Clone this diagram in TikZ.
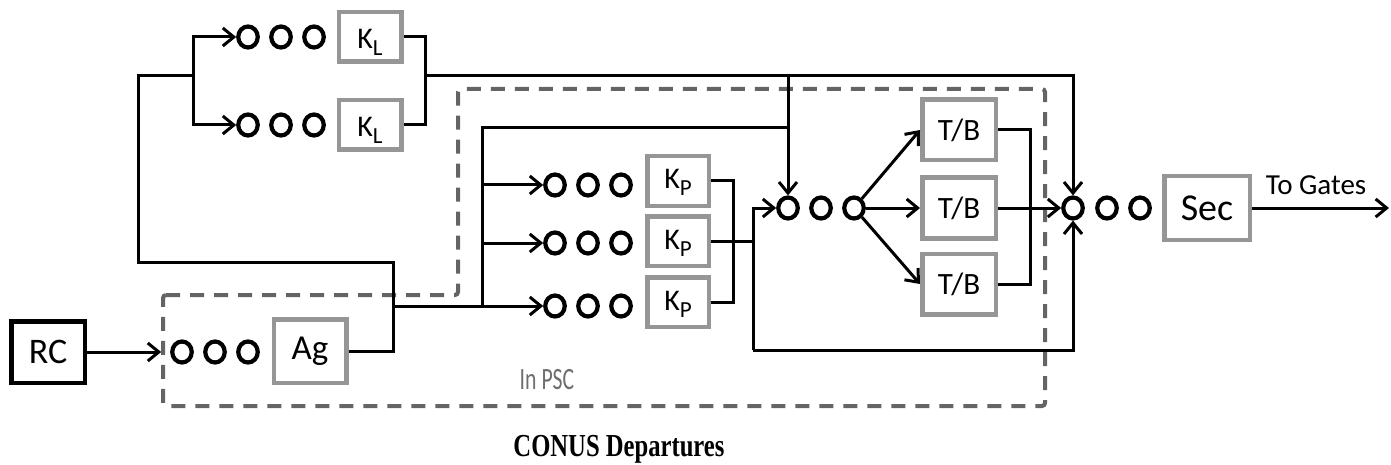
\documentclass[tikz,border=0pt]{standalone}
\usepackage{fontspec}
\setmainfont{Carlito}
\newfontfamily\capfont{Liberation Serif}
\usetikzlibrary{arrows.meta,shapes.geometric}
\definecolor{boxgray}{RGB}{150,150,150}
\definecolor{dashgray}{RGB}{100,100,100}
\definecolor{txtgray}{RGB}{110,110,110}
\newcommand{\lsub}[1]{\raisebox{-7pt}{\fontsize{23}{25}\selectfont #1}}
\begin{document}
\begin{tikzpicture}[x=1pt,y=-1pt,
  conn/.style={line width=3pt, draw=black},
  arr/.style={conn, -{Straight Barb[length=11pt,width=18pt,line width=3pt]}},
  qc/.style={ellipse, draw=black, line width=4.2pt, minimum width=19.5pt, minimum height=21pt, inner sep=0pt},
  gbox/.style={draw=boxgray, line width=4.5pt, inner sep=0pt},
  kbox/.style={gbox, minimum width=62.5pt, minimum height=49.5pt, font=\fontsize{30}{32}\selectfont, text height=24pt, text depth=0pt},
  pbox/.style={gbox, minimum width=61.5pt, minimum height=49.5pt, font=\fontsize{30}{32}\selectfont, text height=16pt, text depth=0pt},
  tbbox/.style={gbox, minimum width=73.5pt, minimum height=60.5pt, font=\fontsize{31}{33}\selectfont},
  region/.style={draw=dashgray, line width=4pt, dash pattern=on 14pt off 10pt, rounded corners=3pt}
]
\useasboundingbox (0,0) rectangle (1391,465);

% dashed PSC region
\draw[region] (163,295) -- (458,295) -- (458,89) -- (1045,89) -- (1045,406) -- (163,406) -- cycle;
\node[text=txtgray, font=\fontsize{31}{33}\selectfont] (psc) at (547,380) {\scalebox{0.7}[1]{In PSC}};

% RC and Ag
\node[draw=black, line width=4.5pt, minimum width=73.5pt, minimum height=61.5pt, inner sep=0pt,
      font=\fontsize{36}{38}\selectfont] (rc) at (48,352) {RC};
\node[qc] (g1) at (182,352) {};
\node[qc] (g2) at (215,352) {};
\node[qc] (g3) at (248,352) {};
\node[gbox, minimum width=72.5pt, minimum height=63.5pt, font=\fontsize{35}{37}\selectfont] (ag) at (310,351) {Ag};

% K_L lanes
\node[qc] (l1a) at (248,37) {};
\node[qc] (l1b) at (281,37) {};
\node[qc] (l1c) at (314,37) {};
\node[kbox] (kl1) at (370,37) {K\lsub{L}};
\node[qc] (l2a) at (248,125) {};
\node[qc] (l2b) at (281,125) {};
\node[qc] (l2c) at (314,125) {};
\node[kbox] (kl2) at (370,125) {K\lsub{L}};

% K_P lanes
\node[qc] (p1a) at (555,185) {};
\node[qc] (p1b) at (588,185) {};
\node[qc] (p1c) at (621,185) {};
\node[pbox] (kp1) at (678,181) {K\lsub{P}};
\node[qc] (p2a) at (555,243) {};
\node[qc] (p2b) at (588,243) {};
\node[qc] (p2c) at (621,243) {};
\node[pbox] (kp2) at (678,241) {K\lsub{P}};
\node[qc] (p3a) at (555,306) {};
\node[qc] (p3b) at (588,306) {};
\node[qc] (p3c) at (621,306) {};
\node[pbox] (kp3) at (678,302) {K\lsub{P}};

% central queue and T/B
\node[qc] (c1) at (788,208) {};
\node[qc] (c2) at (821,208) {};
\node[qc] (c3) at (854,208) {};
\node[tbbox] (tb1) at (959,130) {T/B};
\node[tbbox] (tb2) at (959,208) {T/B};
\node[tbbox] (tb3) at (959,284) {T/B};

% security
\node[qc] (s1) at (1073,208) {};
\node[qc] (s2) at (1107,208) {};
\node[qc] (s3) at (1140,208) {};
\node[gbox, minimum width=85.5pt, minimum height=63.5pt, font=\fontsize{38}{40}\selectfont] (sec) at (1207,208) {Sec};
\coordinate (out) at (1389,208);
\node[font=\fontsize{29}{31}\selectfont] (tg) at (1316,185) {To Gates};

% caption
\node[anchor=base, font=\capfont\bfseries\fontsize{32}{34}\selectfont] (cap) at (619,456) {\scalebox{0.77}[1]{CONUS Departures}};

% junction coordinates
\coordinate (a1) at (393,262);
\coordinate (a2) at (138,262);
\coordinate (a3) at (393,306);
\coordinate (jL) at (193,76);
\coordinate (km) at (425,76);
\coordinate (kv) at (482,306);
\coordinate (tj) at (788,76);
\coordinate (tj2) at (788,128);
\coordinate (pm) at (733,240);
\coordinate (pv2) at (753,350);
\coordinate (tm) at (1030,208);

% connectors
\draw[arr, shorten >=9pt] (rc.east) -- (g1.west);
\draw[conn] (ag.east) -| (a1) -- (a2) |- (jL);
\draw[arr] (jL) |- (l1a.west);
\draw[arr] (jL) |- (l2a.west);
\draw[conn] (kl1.east) -| (km);
\draw[conn] (kl2.east) -| (km);
\draw[arr] (km) -| (s1.north);
\draw[arr] (tj) -- (c1.north);

\draw[arr] (a3) -- (p3a.west);
\draw[conn] (kv) |- (tj2);
\draw[arr] (kv |- p1a) -- (p1a.west);
\draw[arr] (kv |- p2a) -- (p2a.west);

\draw[conn] (kp1.east) -| (pm);
\draw[conn] (kp3.east) -| (pm);
\draw[conn] (kp2.east) -- (kp2.east -| pv2);
\draw[arr] (pv2) |- (c1.west);
\draw[arr] (pv2) -| (s1.south);

\draw[arr] (c3) -- (tb1.west);
\draw[arr] (c3) -- (tb2.west);
\draw[arr] (c3) -- (tb3.west);

\draw[conn] (tb1.east) -| (tm);
\draw[conn] (tb3.east) -| (tm);
\draw[arr] (tb2.east) -- (s1.west);

\draw[arr] (sec.east) -- (out);
\end{tikzpicture}
\end{document}
